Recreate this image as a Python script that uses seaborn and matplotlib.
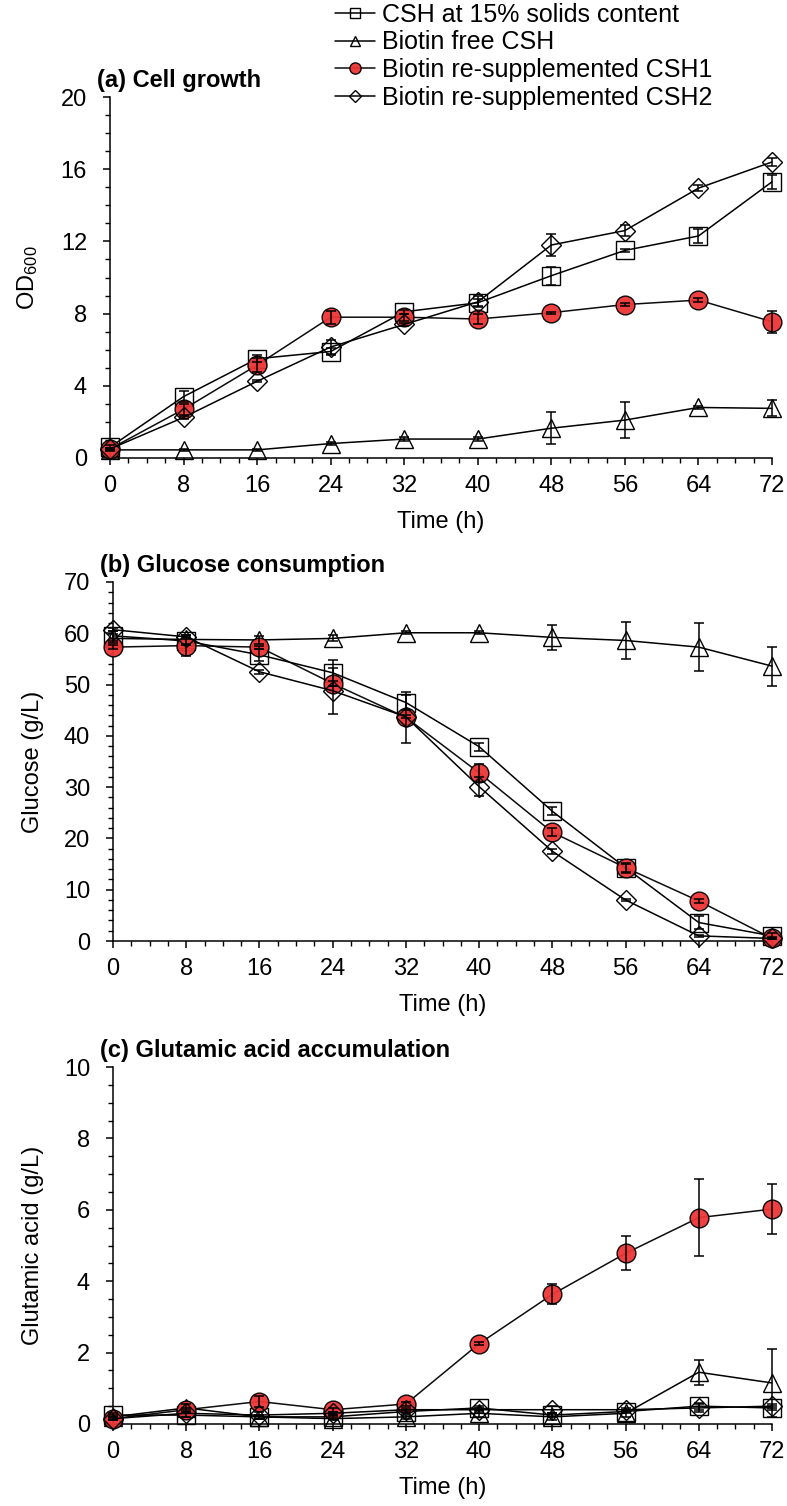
import matplotlib
matplotlib.use("Agg")
import matplotlib.pyplot as plt
from matplotlib.ticker import MultipleLocator
import numpy as np
import seaborn as sns

# sampling times (h)
time = [0, 8, 16, 24, 32, 40, 48, 56, 64, 72]

series_names = ["CSH at 15% solids content", "Biotin free CSH",
                "Biotin re-supplemented CSH1", "Biotin re-supplemented CSH2"]

# (a) OD600
od_csh15 = [0.6, 3.4, 5.5, 5.9, 8.1, 8.6, 10.1, 11.5, 12.3, 15.3]
od_csh15_err = [0.1, 0.3, 0.2, 0.2, 0.1, 0.2, 0.5, 0.1, 0.4, 0.4]
od_free = [0.45, 0.45, 0.45, 0.8, 1.05, 1.05, 1.65, 2.1, 2.8, 2.75]
od_free_err = [0.05, 0.05, 0.05, 0.1, 0.1, 0.1, 0.9, 1.0, 0.1, 0.45]
od_csh1 = [0.5, 2.7, 5.15, 7.8, 7.8, 7.7, 8.05, 8.5, 8.75, 7.55]
od_csh1_err = [0.05, 0.3, 0.4, 0.35, 0.2, 0.3, 0.05, 0.1, 0.1, 0.6]
od_csh2 = [0.5, 2.25, 4.25, 6.15, 7.4, 8.65, 11.8, 12.6, 14.95, 16.4]
od_csh2_err = [0.05, 0.1, 0.05, 0.4, 0.1, 0.3, 0.6, 0.3, 0.15, 0.2]

# (b) glucose (g/L)
glc_csh15 = [59.5, 58.5, 55.8, 52.3, 46.5, 37.9, 25.3, 14.3, 3.6, 1.0]
glc_csh15_err = [1.0, 0.8, 1.2, 2.5, 1.5, 0.8, 0.8, 0.8, 1.2, 0.5]
glc_free = [59.0, 58.8, 58.7, 59.0, 60.1, 60.1, 59.2, 58.6, 57.3, 53.6]
glc_free_err = [0.8, 0.8, 0.8, 0.6, 0.3, 0.3, 2.4, 3.6, 4.7, 3.8]
glc_csh1 = [57.3, 57.6, 57.3, 50.2, 43.6, 32.8, 21.2, 14.3, 7.8, 0.5]
glc_csh1_err = [0.4, 2.0, 0.3, 0.5, 5.0, 1.8, 0.8, 1.0, 0.3, 0.2]
glc_csh2 = [60.7, 59.3, 52.5, 48.8, 43.7, 30.1, 17.5, 8.0, 1.0, 0.5]
glc_csh2_err = [0.3, 0.4, 0.4, 4.5, 0.3, 1.8, 0.5, 0.2, 0.2, 0.1]

# (c) glutamic acid (g/L)
glu_csh15 = [0.25, 0.25, 0.2, 0.2, 0.35, 0.45, 0.25, 0.35, 0.5, 0.45]
glu_csh15_err = [0.05, 0.05, 0.05, 0.05, 0.05, 0.05, 0.05, 0.05, 0.1, 0.05]
glu_free = [0.2, 0.45, 0.2, 0.15, 0.2, 0.3, 0.2, 0.3, 1.45, 1.15]
glu_free_err = [0.05, 0.1, 0.05, 0.05, 0.05, 0.1, 0.1, 0.1, 0.35, 0.95]
glu_csh1 = [0.15, 0.4, 0.63, 0.4, 0.56, 2.25, 3.63, 4.78, 5.78, 6.02]
glu_csh1_err = [0.05, 0.05, 0.15, 0.05, 0.05, 0.05, 0.28, 0.48, 1.07, 0.7]
glu_csh2 = [0.15, 0.3, 0.25, 0.3, 0.4, 0.4, 0.4, 0.4, 0.45, 0.5]
glu_csh2_err = [0.05, 0.1, 0.1, 0.05, 0.05, 0.05, 0.1, 0.05, 0.1, 0.05]

sns.set_style("ticks")
plt.rcParams["font.family"] = ["Liberation Sans", "DejaVu Sans"]
plt.rcParams["mathtext.default"] = "regular"
for k in ["text.color", "axes.labelcolor", "xtick.color", "ytick.color", "axes.edgecolor"]:
    plt.rcParams[k] = "black"

RED = "#EE3535"
FS = 17
styles = [
    dict(marker="s", markersize=12.5, markerfacecolor="none"),
    dict(marker="^", markersize=13, markerfacecolor="none"),
    dict(marker="o", markersize=13.5, markerfacecolor=RED, alpha=0.95),
    dict(marker="D", markersize=10, markerfacecolor="none"),
]

W, H = 787, 1506
fig = plt.figure(figsize=(W / 100, H / 100), dpi=100)


def make_axes(left, top, right, bottom):
    return fig.add_axes([left / W, 1 - bottom / H, (right - left) / W, (bottom - top) / H])


def draw_panel(ax, values, errors, ymax, ymajor, yminor, ylabel, title):
    for name, y, e, st in zip(series_names, values, errors, styles):
        sns.lineplot(x=time, y=y, ax=ax, color="black", linewidth=1.1,
                     markeredgecolor="black", markeredgewidth=1.0,
                     clip_on=False, label=name, zorder=3, **st)
        ax.errorbar(time, y, yerr=e, fmt="none", ecolor="black", elinewidth=1.1,
                    capsize=3.5, capthick=1.1, clip_on=False, zorder=4)
    leg = ax.get_legend()
    if leg is not None:
        leg.remove()
    ax.set_xlim(0, 72)
    ax.set_ylim(0, ymax)
    ax.set_xticks(range(0, 73, 8))
    ax.xaxis.set_minor_locator(MultipleLocator(2))
    ax.yaxis.set_major_locator(MultipleLocator(ymajor))
    ax.yaxis.set_minor_locator(MultipleLocator(yminor))
    ax.tick_params(which="major", direction="out", length=5, width=1.1, labelsize=FS)
    ax.tick_params(which="minor", direction="out", length=3.4, width=1.0)
    ax.tick_params(axis="x", which="major", pad=7)
    ax.tick_params(axis="y", which="major", pad=11.5)
    for s in ["top", "right"]:
        ax.spines[s].set_visible(False)
    for s in ["left", "bottom"]:
        ax.spines[s].set_linewidth(1.1)
    ax.set_xlabel("Time (h)", fontsize=FS)
    ax.set_ylabel(ylabel, fontsize=FS)
    ax.xaxis.set_label_coords(0.5, -0.148)
    ax.yaxis.set_label_coords(-0.105, 0.5)
    ax.text(-0.02, 1.046, title, transform=ax.transAxes, fontsize=FS,
            fontweight="bold", ha="left", va="center")


ax_a = make_axes(110, 97, 772, 458)
draw_panel(ax_a, [od_csh15, od_free, od_csh1, od_csh2],
           [od_csh15_err, od_free_err, od_csh1_err, od_csh2_err],
           20, 4, 1, "OD$_{600}$", "(a) Cell growth")

ax_b = make_axes(113, 582, 772, 941)
draw_panel(ax_b, [glc_csh15, glc_free, glc_csh1, glc_csh2],
           [glc_csh15_err, glc_free_err, glc_csh1_err, glc_csh2_err],
           70, 10, 2, "Glucose (g/L)", "(b) Glucose consumption")

ax_c = make_axes(113, 1067, 772, 1424)
draw_panel(ax_c, [glu_csh15, glu_free, glu_csh1, glu_csh2],
           [glu_csh15_err, glu_free_err, glu_csh1_err, glu_csh2_err],
           10, 2, 0.5, "Glutamic acid (g/L)", "(c) Glutamic acid accumulation")

handles = [ln for ln in ax_a.get_lines() if ln.get_label() in series_names]
fig.legend(handles, series_names, loc="upper left",
           bbox_to_anchor=(335 / W, 1 - 2.5 / H), frameon=False, fontsize=18,
           handlelength=1.6, handletextpad=0.28, labelspacing=0.15,
           borderpad=0, borderaxespad=0, markerscale=0.6)

fig.savefig("out.png", dpi=100)
